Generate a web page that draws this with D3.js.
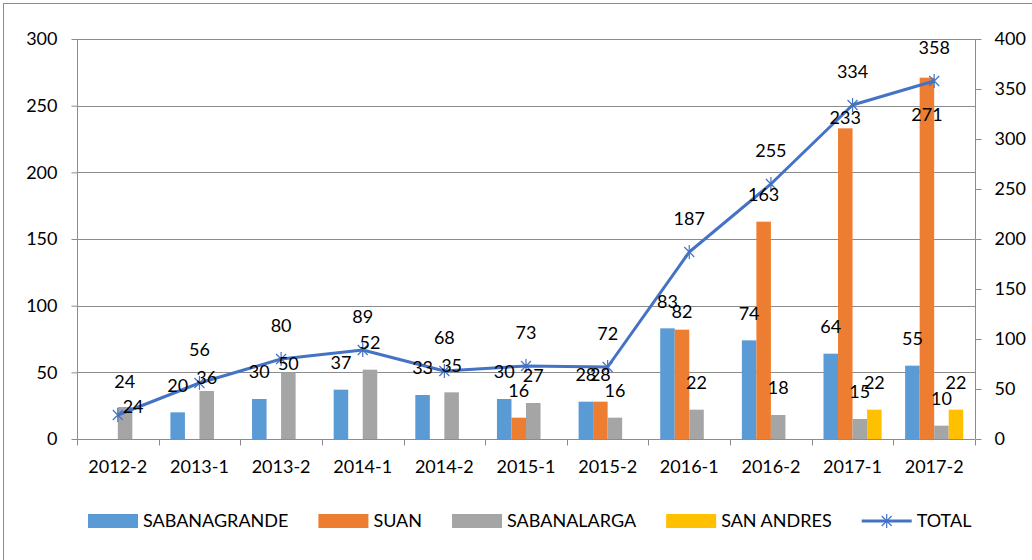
<!DOCTYPE html>
<html lang="en">
<head>
    <meta charset="UTF-8">
    <script src="https://cdn.jsdelivr.net/npm/d3@7"></script>
    <title>Estudiantes por periodo</title>
    <style>
        html, body {
            margin: 0;
            padding: 0;
            background-color: #ffffff;
            font-family: "Lato", "Open Sans", sans-serif;
        }
        text { font-family: "Lato", "Open Sans", sans-serif; fill: #000; }
    </style>
</head>
<body>
    <div id="chart"></div>
    <script>
        // data
        const categories = ['2012-2', '2013-1', '2013-2', '2014-1', '2014-2', '2015-1', '2015-2', '2016-1', '2016-2', '2017-1', '2017-2'];
        const seriesNames = ['SABANAGRANDE', 'SUAN', 'SABANALARGA', 'SAN ANDRES'];
        const sabanagrande = [0, 20, 30, 37, 33, 30, 28, 83, 74, 64, 55];
        const suan = [0, 0, 0, 0, 0, 16, 28, 82, 163, 233, 271];
        const sabanalarga = [24, 36, 50, 52, 35, 27, 16, 22, 18, 15, 10];
        const sanAndres = [0, 0, 0, 0, 0, 0, 0, 0, 0, 22, 22];
        const total = [24, 56, 80, 89, 68, 73, 72, 187, 255, 334, 358];
        const leftTicks = [0, 50, 100, 150, 200, 250, 300];
        const rightTicks = [0, 50, 100, 150, 200, 250, 300, 350, 400];

        const seriesValues = [sabanagrande, suan, sabanalarga, sanAndres];
        const colors = ['#5b9bd5', '#ed7d31', '#a5a5a5', '#ffc000'];
        const lineColor = '#4472c4';
        const gridColor = '#8c8c8c';

        // a few labels were moved by hand in the original
        const labelNudge = {
            'SABANALARGA|2012-2': [8, 27],
            'SABANALARGA|2013-1': [0, 14],
            'SABANALARGA|2013-2': [0, 18],
            'SUAN|2016-1': [0, 9],
            'SUAN|2017-1': [0, 16],
            'SUAN|2017-2': [0, 64],
            'TOTAL|2012-2': [7, 0]
        };

        let width = 1032;
        let height = 560;
        let margin = {left: 77, right: 57, top: 39, bottom: 121};

        let svg = d3.select('#chart').append('svg')
            .attr('width', width).attr('height', height);

        // chart frame
        svg.append('rect')
            .attr('x', 3.5).attr('y', 3.5)
            .attr('width', width + 10).attr('height', height + 10)
            .attr('fill', 'none').attr('stroke', '#8c8c8c').attr('stroke-width', 1);

        let x = d3.scaleBand().domain(categories).range([margin.left, width - margin.right]);
        let xs = d3.scaleBand().domain(seriesNames).range([0, x.bandwidth()]).paddingOuter(0.81);
        let yL = d3.scaleLinear().domain([0, 300]).range([height - margin.bottom, margin.top]);
        let yR = d3.scaleLinear().domain([0, 400]).range([height - margin.bottom, margin.top]);

        // gridlines
        svg.append('g').selectAll('line')
            .data(leftTicks)
            .join('line')
            .attr('x1', margin.left).attr('x2', width - margin.right)
            .attr('y1', d => Math.round(yL(d)) + 0.5).attr('y2', d => Math.round(yL(d)) + 0.5)
            .attr('stroke', gridColor).attr('stroke-width', 1);

        // bars
        seriesNames.forEach((name, si) => {
            svg.append('g').selectAll('rect')
                .data(categories.map((c, i) => ({c: c, v: seriesValues[si][i]})).filter(d => d.v > 0))
                .join('rect')
                .attr('x', d => x(d.c) + xs(name))
                .attr('width', xs.bandwidth())
                .attr('y', d => yL(d.v))
                .attr('height', d => yL(0) - yL(d.v))
                .attr('fill', colors[si]);
        });

        // axes
        let axisLeft = svg.append('g')
            .attr('transform', `translate(${margin.left + 0.5},0)`)
            .call(d3.axisLeft(yL).tickValues(leftTicks).tickSize(6).tickPadding(14));
        let axisRight = svg.append('g')
            .attr('transform', `translate(${width - margin.right + 0.5},0)`)
            .call(d3.axisRight(yR).tickValues(rightTicks).tickSize(6).tickPadding(13));
        [axisLeft, axisRight].forEach(a => {
            a.selectAll('path').attr('stroke', gridColor).attr('d', null);
            a.select('.domain').attr('d', `M0,${margin.top}V${height - margin.bottom}`);
            a.selectAll('line').attr('stroke', gridColor);
            a.selectAll('text').style('font-size', '18px').attr('fill', '#000');
        });

        let axisBottom = svg.append('g')
            .attr('transform', `translate(0,${height - margin.bottom + 0.5})`);
        axisBottom.append('line')
            .attr('x1', margin.left).attr('x2', width - margin.right)
            .attr('stroke', gridColor);
        let bounds = categories.map(c => x(c)).concat([x.range()[1]]);
        axisBottom.selectAll('line.tick')
            .data(bounds)
            .join('line')
            .attr('class', 'tick')
            .attr('x1', d => Math.round(d) + 0.5).attr('x2', d => Math.round(d) + 0.5)
            .attr('y1', 0).attr('y2', 6)
            .attr('stroke', gridColor);
        axisBottom.selectAll('text')
            .data(categories)
            .join('text')
            .attr('x', d => x(d) + x.bandwidth() / 2)
            .attr('y', 33)
            .attr('text-anchor', 'middle')
            .style('font-size', '18px')
            .text(d => d);

        // total line
        let cx = c => x(c) + x.bandwidth() / 2;
        let line = d3.line().x((d, i) => cx(categories[i])).y(d => yR(d));
        svg.append('path')
            .datum(total)
            .attr('d', line)
            .attr('fill', 'none')
            .attr('stroke', lineColor)
            .attr('stroke-width', 3)
            .attr('stroke-linejoin', 'round');

        const starPath = 'M-5,-5L5,5M-5,5L5,-5M0,-7L0,7';
        svg.append('g').selectAll('path')
            .data(total)
            .join('path')
            .attr('transform', (d, i) => `translate(${cx(categories[i])},${yR(d)})`)
            .attr('d', starPath)
            .attr('stroke', lineColor)
            .attr('stroke-width', 1.2)
            .attr('fill', 'none');

        // data labels
        let labels = svg.append('g').style('font-size', '18px').attr('text-anchor', 'middle');
        seriesNames.forEach((name, si) => {
            categories.forEach((c, i) => {
                let v = seriesValues[si][i];
                if (!v) return;
                let n = labelNudge[name + '|' + c] || [0, 0];
                labels.append('text')
                    .attr('x', x(c) + xs(name) + xs.bandwidth() / 2 + n[0])
                    .attr('y', yL(v) - 27 + n[1])
                    .attr('dy', '0.35em')
                    .text(v);
            });
        });
        categories.forEach((c, i) => {
            let n = labelNudge['TOTAL|' + c] || [0, 0];
            labels.append('text')
                .attr('x', cx(c) + n[0])
                .attr('y', yR(total[i]) - 33 + n[1])
                .attr('dy', '0.35em')
                .text(total[i]);
        });

        // legend
        let legend = svg.append('g').attr('transform', 'translate(88,521)');
        let lx = 0;
        seriesNames.concat(['TOTAL']).forEach((name, i) => {
            let item = legend.append('g').attr('transform', `translate(${lx},0)`);
            if (i < 4) {
                item.append('rect')
                    .attr('x', 0).attr('y', -7).attr('width', 50).attr('height', 14)
                    .attr('fill', colors[i]);
            } else {
                item.append('line')
                    .attr('x1', 0).attr('x2', 50)
                    .attr('stroke', lineColor).attr('stroke-width', 3);
                item.append('path')
                    .attr('transform', 'translate(25,0)')
                    .attr('d', starPath)
                    .attr('stroke', lineColor).attr('stroke-width', 1.2);
            }
            let t = item.append('text')
                .attr('x', 55).attr('dy', '0.35em')
                .style('font-size', '18px')
                .text(name);
            lx += 55 + t.node().getComputedTextLength() + 30;
        });
    </script>
</body>
</html>
